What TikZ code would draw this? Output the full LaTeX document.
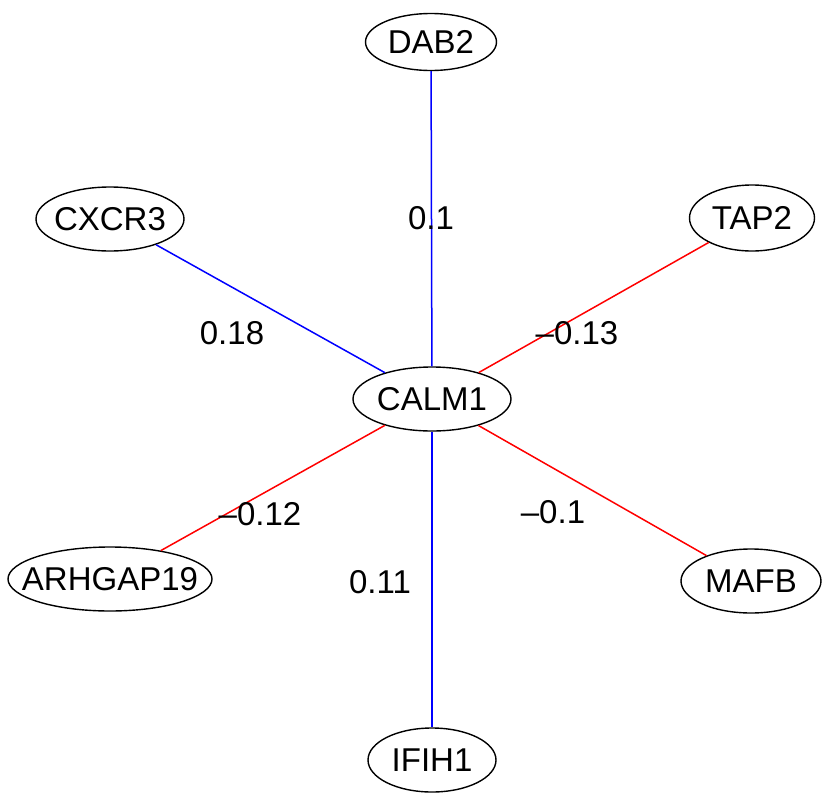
\documentclass[tikz,border=0pt]{standalone}
\usepackage{fontspec}
\setmainfont{Liberation Sans}
\usetikzlibrary{shapes.geometric}

\newcommand{\genename}[1]{\makebox[0pt]{#1}}

\begin{document}
\begin{tikzpicture}[x=1pt,y=-1pt]
        \tikzstyle{every node} = [font=\fontsize{33}{38}\selectfont]
        \tikzstyle{gene} = [ellipse, draw, line width=1.4pt, inner sep=0pt, minimum height=64pt]
        \tikzstyle{posedge} = [blue, line width=1.5pt]
        \tikzstyle{negedge} = [red, line width=1.5pt]
        \useasboundingbox (0,0) rectangle (825,793);
        \node[gene, minimum width=131pt, minimum height=57pt] (dab) at (431,42) {\genename{DAB2}};
        \node[gene, minimum width=148pt] (cxcr) at (110,219) {\genename{CXCR3}};
        \node[gene, minimum width=125pt, minimum height=66pt] (tap) at (752,218) {\genename{TAP2}};
        \node[gene, minimum width=158pt] (calm) at (432,399) {\genename{CALM1}};
        \node[gene, minimum width=204pt] (arhgap) at (110,579) {\genename{ARHGAP19}};
        \node[gene, minimum width=140pt] (mafb) at (751,581) {\genename{MAFB}};
        \node[gene, minimum width=128pt] (ifih) at (432,760) {\genename{IFIH1}};
        \draw[posedge] (calm) -- (dab);
        \draw[posedge] (calm) -- (cxcr);
        \draw[negedge] (calm) -- (tap);
        \draw[negedge] (calm) -- (arhgap);
        \draw[negedge] (calm) -- (mafb);
        \draw[posedge] (calm) -- (ifih);
        \node (w1) at (431,218) {0.1};
        \node (w2) at (232,333) {0.18};
        \node (w3) at (577,333) {--0.13};
        \node (w4) at (260,514) {--0.12};
        \node (w5) at (553,512) {--0.1};
        \node (w6) at (380,582) {0.11};
\end{tikzpicture}
\end{document}
